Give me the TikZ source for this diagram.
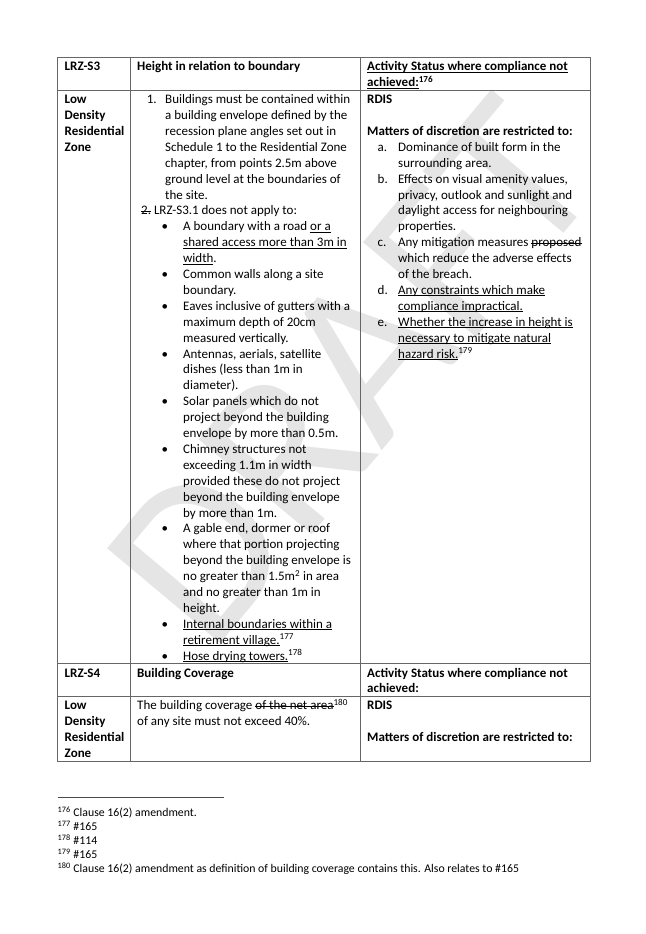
\documentclass[tikz,border=0pt]{standalone}
\usepackage{fontspec}
\setmainfont{Carlito}
\newcommand{\bodysize}{\fontsize{13}{15.9}\selectfont}
\newcommand{\notesize}{\fontsize{11.8}{14.1}\selectfont}
\newsavebox{\markbox}
\newcommand{\ulin}[1]{\sbox{\markbox}{#1}\rlap{\rule[-1.7pt]{\wd\markbox}{0.7pt}}\usebox{\markbox}}
\newcommand{\strk}[1]{\sbox{\markbox}{#1}\rlap{\rule[3.2pt]{\wd\markbox}{0.7pt}}\usebox{\markbox}}

\begin{document}
\begin{tikzpicture}[x=1pt, y=-1pt,
    txt/.style={anchor=base west, inner sep=0pt, align=left, font=\bodysize},
    hdr/.style={txt, font=\bodysize\bfseries},
    note/.style={anchor=base west, inner sep=0pt, align=left, font=\notesize},
    rule/.style={draw=black!60, line width=0.8pt},
    wmark/.style={inner sep=0pt, text=black!10, font=\fontsize{230}{230}\selectfont, rotate=50}]
                \useasboundingbox (0,0) rectangle (645,934);
                \fill[white] (0,0) rectangle (645,934);

                % Watermark
                \node[wmark] (draft) at (352,372) {DRAFT};

                % Table rules
                \draw[rule] (57.5,57.3) rectangle (590.7,760.9);
                \foreach \y in {90.1, 663.5, 696.3}
                    \draw[rule] (57.5,\y) -- (590.7,\y);
                \foreach \x in {130.7, 360.7}
                    \draw[rule] (\x,57.3) -- (\x,760.9);

                % LRZ-S3 header row (nodes sit on the baseline of their last line)
                \node[hdr] at (64.5,70.8) (s3code) {LRZ-S3};
                \node[hdr] at (137,70.8) (s3title) {Height in relation to boundary};
                \node[hdr] at (367,86.7) (s3status) {\ulin{Activity Status where compliance not}\\\ulin{achieved:}\textsuperscript{176}};

                % LRZ-S3 body row
                \node[hdr] at (64.5,151.3) (s3zone) {Low\\Density\\Residential\\Zone};

                \node[txt] at (146.7,103.6) (num1) {1.};
                \node[txt] at (165,199.0) (rule1) {Buildings must be contained within\\a building envelope defined by the\\recession plane angles set out in\\Schedule 1 to the Residential Zone\\chapter, from points 2.5m above\\ground level at the boundaries of\\the site.};
                \node[txt] at (141,214.9) (rule2) {\strk{2.} LRZ-S3.1 does not apply to:};

                % bullets: line numbers of the list items
                \foreach \k in {8,11,13,16,19,22,27,33,35}
                    \node[txt] at (161.5,{103.6+15.9*\k}) (bul\k) {\textbullet};

                \node[txt] at (183,262.6) (ex8) {A boundary with a road \ulin{or a}\\\ulin{shared access more than 3m in}\\\ulin{width}.};
                \node[txt] at (183,294.4) (ex11) {Common walls along a site\\boundary.};
                \node[txt] at (183,342.1) (ex13) {Eaves inclusive of gutters with a\\maximum depth of 20cm\\measured vertically.};
                \node[txt] at (183,389.8) (ex16) {Antennas, aerials, satellite\\dishes (less than 1m in\\diameter).};
                \node[txt] at (183,437.5) (ex19) {Solar panels which do not\\project beyond the building\\envelope by more than 0.5m.};
                \node[txt] at (183,517.0) (ex22) {Chimney structures not\\exceeding 1.1m in width\\provided these do not project\\beyond the building envelope\\by more than 1m.};
                \node[txt] at (183,612.4) (ex27) {A gable end, dormer or roof\\where that portion projecting\\beyond the building envelope is\\no greater than 1.5m\textsuperscript{2} in area\\and no greater than 1m in\\height.};
                \node[txt] at (183,644.2) (ex33) {\ulin{Internal boundaries within a}\\\ulin{retirement village.}\textsuperscript{177}};
                \node[txt] at (183,660.1) (ex35) {\ulin{Hose drying towers.}\textsuperscript{178}};

                \node[hdr] at (367,103.6) (s3rdis) {RDIS};
                \node[hdr] at (367,135.4) (s3matters) {Matters of discretion are restricted to:};
                \node[txt] at (377.5,151.3) (lbla) {a.};
                \node[txt] at (398,167.2) (mata) {Dominance of built form in the\\surrounding area.};
                \node[txt] at (377.5,183.1) (lblb) {b.};
                \node[txt] at (398,230.8) (matb) {Effects on visual amenity values,\\privacy, outlook and sunlight and\\daylight access for neighbouring\\properties.};
                \node[txt] at (377.5,246.7) (lblc) {c.};
                \node[txt] at (398,278.5) (matc) {Any mitigation measures \strk{proposed}\\which reduce the adverse effects\\of the breach.};
                \node[txt] at (377.5,294.4) (lbld) {d.};
                \node[txt] at (398,310.3) (matd) {\ulin{Any constraints which make}\\\ulin{compliance impractical.}};
                \node[txt] at (377.5,326.2) (lble) {e.};
                \node[txt] at (398,358.0) (mate) {\ulin{Whether the increase in height is}\\\ulin{necessary to mitigate natural}\\\ulin{hazard risk.}\textsuperscript{179}};

                % LRZ-S4 rows
                \node[hdr] at (64.5,677) (s4code) {LRZ-S4};
                \node[hdr] at (137,677) (s4title) {Building Coverage};
                \node[hdr] at (367,692.9) (s4status) {Activity Status where compliance not\\achieved:};
                \node[hdr] at (64.5,757.5) (s4zone) {Low\\Density\\Residential\\Zone};
                \node[txt] at (137,725.7) (s4rule) {The building coverage \strk{of the net area}\textsuperscript{180}\\of any site must not exceed 40\%.};
                \node[hdr] at (367,709.8) (s4rdis) {RDIS};
                \node[hdr] at (367,741.6) (s4matters) {Matters of discretion are restricted to:};

                % Footnotes
                \draw[draw=black!70, line width=0.8pt] (57.5,797.5) -- (224,797.5);
                \node[note] at (57.5,872.9) (notes) {\textsuperscript{176} Clause 16(2) amendment.\\\textsuperscript{177} \#165\\\textsuperscript{178} \#114\\\textsuperscript{179} \#165\\\textsuperscript{180} Clause 16(2) amendment as definition of building coverage contains this. Also relates to \#165};

            \end{tikzpicture}
\end{document}
